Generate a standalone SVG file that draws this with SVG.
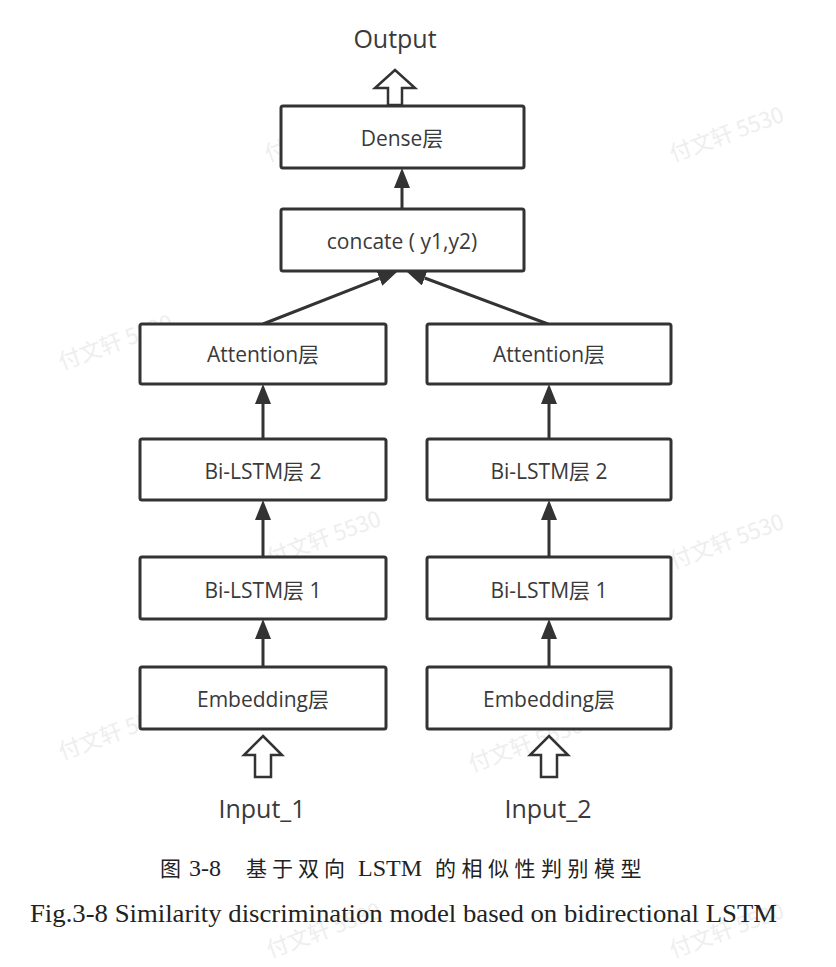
<svg xmlns="http://www.w3.org/2000/svg" width="836" height="967" viewBox="0 0 836 967">
<style>
  .box { fill: #ffffff; stroke: #333333; stroke-width: 3; }
  .lbl { font-family: "Open Sans", "Noto Sans CJK SC", sans-serif; font-size: 21px; fill: #3a3a3a; text-anchor: middle; }
  .big { font-family: "Open Sans", "Noto Sans CJK SC", sans-serif; font-size: 25px; fill: #3a3a3a; text-anchor: middle; }
  .conn { stroke: #333333; stroke-width: 3; fill: none; }
  .hollow { fill: #ffffff; stroke: #333333; stroke-width: 2.5; stroke-linejoin: miter; }
  .wm { font-family: "Noto Sans CJK SC", sans-serif; font-size: 22px; fill: #eeeeee; }
  .capcn { font-family: "Liberation Serif", "Noto Sans CJK SC", serif; font-size: 21px; fill: #222222; }
  .capen { font-family: "Liberation Serif", serif; font-size: 25px; fill: #222222; }
</style>
<defs>
  <marker id="ah" markerUnits="userSpaceOnUse" markerWidth="20" markerHeight="16" refX="0" refY="8" orient="auto" viewBox="0 0 20 16">
    <path d="M0,0 L20,8 L0,16 z" fill="#333333"/>
  </marker>
</defs>
<rect x="0" y="0" width="836" height="967" fill="#ffffff"/>

<g id="watermarks">
  <text class="wm" transform="translate(268,162) rotate(-20)">付文轩 5530</text>
  <text class="wm" transform="translate(673,162) rotate(-20)">付文轩 5530</text>
  <text class="wm" transform="translate(62,370) rotate(-20)">付文轩 5530</text>
  <text class="wm" transform="translate(475,378) rotate(-20)">付文轩 5530</text>
  <text class="wm" transform="translate(270,566) rotate(-20)">付文轩 5530</text>
  <text class="wm" transform="translate(673,569) rotate(-20)">付文轩 5530</text>
  <text class="wm" transform="translate(62,760) rotate(-20)">付文轩 5530</text>
  <text class="wm" transform="translate(472,772) rotate(-20)">付文轩 5530</text>
  <text class="wm" transform="translate(270,958) rotate(-20)">付文轩 5530</text>
  <text class="wm" transform="translate(673,958) rotate(-20)">付文轩 5530</text>
</g>

<g id="connectors">
  <line class="conn" x1="402" y1="209" x2="402" y2="188" marker-end="url(#ah)"/>
  <line class="conn" x1="263" y1="324" x2="379.4" y2="278.3" marker-end="url(#ah)"/>
  <line class="conn" x1="548" y1="324" x2="424.7" y2="278" marker-end="url(#ah)"/>
  <line class="conn" x1="263" y1="439" x2="263" y2="404" marker-end="url(#ah)"/>
  <line class="conn" x1="263" y1="557" x2="263" y2="520" marker-end="url(#ah)"/>
  <line class="conn" x1="263" y1="667" x2="263" y2="639" marker-end="url(#ah)"/>
  <line class="conn" x1="549" y1="439" x2="549" y2="404" marker-end="url(#ah)"/>
  <line class="conn" x1="549" y1="557" x2="549" y2="520" marker-end="url(#ah)"/>
  <line class="conn" x1="549" y1="667" x2="549" y2="639" marker-end="url(#ah)"/>
  <polygon class="hollow" points="395,70 415,88 402,88 402,105 388,105 388,88 375,88"/>
  <polygon class="hollow" points="263,736 282,755 271,755 271,777 255,777 255,755 244,755"/>
  <polygon class="hollow" points="549,736 568,755 557,755 557,777 541,777 541,755 530,755"/>
</g>

<g id="output">
  <text class="big" x="395" y="48">Output</text>
</g>
<g id="dense">
  <rect class="box" x="281" y="106" width="243" height="62" rx="2"/>
  <text class="lbl" x="402" y="146">Dense层</text>
</g>
<g id="concate">
  <rect class="box" x="281" y="209" width="243" height="62" rx="2"/>
  <text class="lbl" x="402" y="249">concate ( y1,y2)</text>
</g>
<g id="attention1">
  <rect class="box" x="140" y="324" width="246" height="60" rx="2"/>
  <text class="lbl" x="263" y="362">Attention层</text>
</g>
<g id="attention2">
  <rect class="box" x="427" y="324" width="244" height="60" rx="2"/>
  <text class="lbl" x="549" y="362">Attention层</text>
</g>
<g id="bilstm2_1">
  <rect class="box" x="140" y="439" width="246" height="61" rx="2"/>
  <text class="lbl" x="263" y="479">Bi-LSTM层 2</text>
</g>
<g id="bilstm2_2">
  <rect class="box" x="427" y="439" width="244" height="61" rx="2"/>
  <text class="lbl" x="549" y="479">Bi-LSTM层 2</text>
</g>
<g id="bilstm1_1">
  <rect class="box" x="140" y="557" width="246" height="62" rx="2"/>
  <text class="lbl" x="263" y="598">Bi-LSTM层 1</text>
</g>
<g id="bilstm1_2">
  <rect class="box" x="427" y="557" width="244" height="62" rx="2"/>
  <text class="lbl" x="549" y="598">Bi-LSTM层 1</text>
</g>
<g id="embedding1">
  <rect class="box" x="140" y="667" width="246" height="62" rx="2"/>
  <text class="lbl" x="263" y="707">Embedding层</text>
</g>
<g id="embedding2">
  <rect class="box" x="427" y="667" width="244" height="62" rx="2"/>
  <text class="lbl" x="549" y="707">Embedding层</text>
</g>
<g id="input1">
  <text class="big" x="262" y="818">Input_1</text>
</g>
<g id="input2">
  <text class="big" x="548" y="818">Input_2</text>
</g>

<g id="caption">
  <text class="capcn" y="876"><tspan x="160">图</tspan><tspan x="189" font-size="24">3-8</tspan><tspan x="246" letter-spacing="5">基于双向</tspan><tspan x="358" font-size="24">LSTM</tspan><tspan x="435" letter-spacing="5.5">的相似性判别模型</tspan></text>
  <text class="capen" x="30" y="922" textLength="747" lengthAdjust="spacingAndGlyphs">Fig.3-8 Similarity discrimination model based on bidirectional LSTM</text>
</g>
</svg>
